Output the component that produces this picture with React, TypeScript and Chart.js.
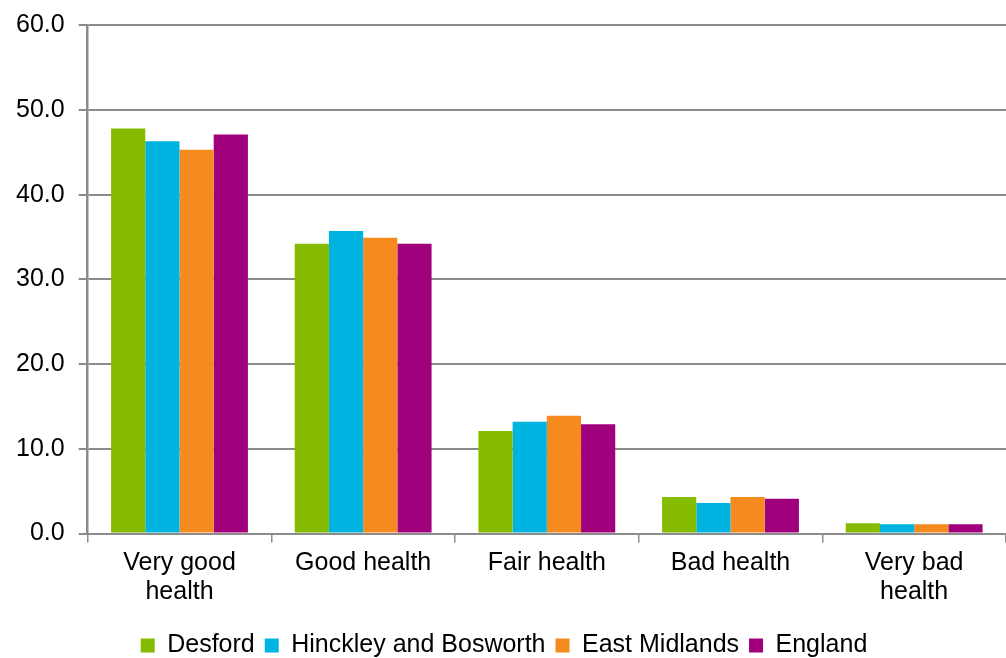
import React, { useEffect, useRef } from "react";
import { Chart, registerables } from "chart.js";

Chart.register(...registerables);

const categories: (string | string[])[] = [
  ["Very good", "health"],
  "Good health",
  "Fair health",
  "Bad health",
  ["Very bad", "health"],
];
const seriesNames = ["Desford", "Hinckley and Bosworth", "East Midlands", "England"];
const desford = [47.8, 34.2, 12.1, 4.3, 1.2];
const hinckley = [46.3, 35.7, 13.2, 3.6, 1.1];
const eastMidlands = [45.3, 34.9, 13.9, 4.3, 1.1];
const england = [47.1, 34.2, 12.9, 4.1, 1.1];
const colors = ["#85BC00", "#00B4E1", "#F58B1F", "#A0007B"];
const yTicks = [0, 10, 20, 30, 40, 50, 60];

export default function App() {
  const ref = useRef<HTMLCanvasElement>(null);
  useEffect(() => {
    if (!ref.current) return;
    const values = [desford, hinckley, eastMidlands, england];
    const fam = "'Liberation Sans', Arial, sans-serif";
    const font = { family: fam, size: 25 };
    const chart = new Chart(ref.current, {
      type: "bar",
      data: {
        labels: categories,
        datasets: seriesNames.map((n, i) => ({
          label: n,
          data: values[i],
          backgroundColor: colors[i],
          borderWidth: 0,
          categoryPercentage: 0.745,
          barPercentage: 1,
        })),
      },
      options: {
        animation: false,
        responsive: true,
        maintainAspectRatio: false,
        layout: { padding: { left: 2, right: 0, top: 0, bottom: -10 } },
        plugins: {
          legend: {
            position: "bottom",
            labels: {
              font,
              color: "#000",
              boxWidth: 14,
              boxHeight: 14,
              padding: 10,
            },
          },
          tooltip: { enabled: false },
        },
        scales: {
          x: {
            afterFit: (axis: any) => {
              axis.height += 10;
            },
            grid: {
              drawOnChartArea: false,
              drawTicks: true,
              tickLength: 9,
              color: "#8c8c8c",
              lineWidth: 1.5,
              offset: true,
            },
            border: { display: true, color: "#8c8c8c", width: 2 },
            ticks: { font: { family: fam, size: 25, lineHeight: 1.17 }, color: "#000", padding: 6, maxRotation: 0, autoSkip: false },
          },
          y: {
            min: 0,
            max: 60,
            afterBuildTicks: (axis: any) => {
              axis.ticks = yTicks.map((v) => ({ value: v }));
            },
            grid: { color: "#8a8a8a", lineWidth: 2, tickLength: 9 },
            border: { display: true, color: "#8a8a8a", width: 2.5 },
            ticks: {
              font: { family: fam, size: 25, lineHeight: 0.9 },
              color: "#000",
              padding: 14,
              callback: (v: any) => Number(v).toFixed(1),
            },
          },
        },
      },
    });
    return () => chart.destroy();
  }, []);
  return (
    <div style={{ position: "fixed", left: 0, top: 0, width: 1006, height: 658, background: "#fff", overflow: "hidden" }}>
      <canvas ref={ref} />
    </div>
  );
}
